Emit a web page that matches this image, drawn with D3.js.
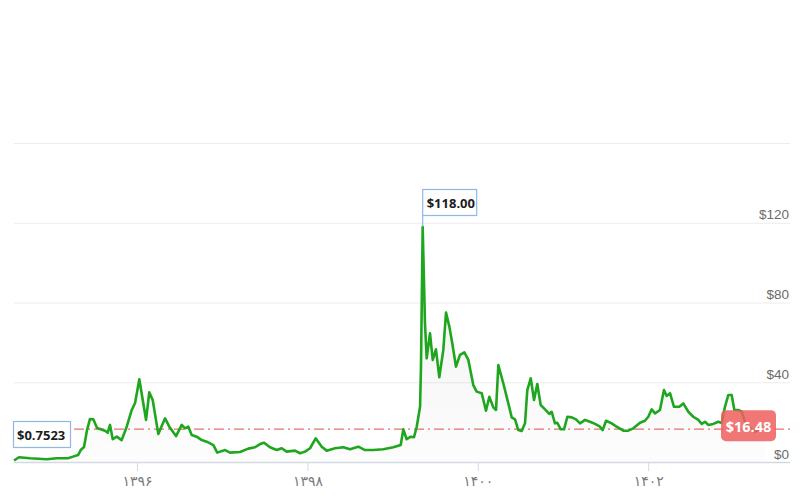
<!DOCTYPE html>
<html>
<head>
<meta charset="utf-8">
<script src="https://cdn.jsdelivr.net/npm/d3@7"></script>
<style>
  html, body { margin: 0; padding: 0; background: #fff; }
  svg { display: block; font-family: "Open Sans", "DejaVu Sans", sans-serif; }
</style>
</head>
<body>
<svg id="chart" width="800" height="500"></svg>
<script>
// Time in decimal Persian (Solar Hijri) years
const years = [
  1394.556, 1394.615, 1394.744, 1394.940, 1395.058, 1395.190, 1395.249, 1395.308, 1395.339, 1395.378,
  1395.413, 1395.448, 1395.487, 1395.531, 1395.624, 1395.656, 1395.683, 1395.715, 1395.762, 1395.820,
  1395.879, 1395.938, 1395.977, 1396.027, 1396.106, 1396.144, 1396.184, 1396.250, 1396.329, 1396.379,
  1396.458, 1396.525, 1396.563, 1396.602, 1396.642, 1396.701, 1396.759, 1396.818, 1396.896, 1396.942,
  1397.033, 1397.092, 1397.209, 1397.306, 1397.385, 1397.444, 1397.491, 1397.561, 1397.640, 1397.698,
  1397.757, 1397.854, 1397.913, 1397.972, 1398.031, 1398.097, 1398.168, 1398.227, 1398.324, 1398.421,
  1398.500, 1398.597, 1398.676, 1398.773, 1398.891, 1399.008, 1399.095, 1399.126, 1399.165, 1399.213,
  1399.251, 1399.283, 1399.322, 1399.333, 1399.353, 1399.380, 1399.400, 1399.439, 1399.471, 1399.509,
  1399.548, 1399.595, 1399.627, 1399.666, 1399.694, 1399.744, 1399.791, 1399.842, 1399.889, 1399.947,
  1399.987, 1400.046, 1400.096, 1400.135, 1400.182, 1400.214, 1400.241, 1400.299, 1400.358, 1400.398,
  1400.437, 1400.475, 1400.515, 1400.554, 1400.581, 1400.621, 1400.660, 1400.698, 1400.738, 1400.789,
  1400.839, 1400.867, 1400.906, 1400.933, 1400.973, 1401.012, 1401.051, 1401.102, 1401.153, 1401.200,
  1401.258, 1401.317, 1401.376, 1401.434, 1401.466, 1401.505, 1401.571, 1401.630, 1401.708, 1401.766,
  1401.825, 1401.904, 1401.962, 1402.001, 1402.041, 1402.080, 1402.138, 1402.185, 1402.217, 1402.256,
  1402.303, 1402.365, 1402.412, 1402.471, 1402.529, 1402.588, 1402.628, 1402.667, 1402.705, 1402.764,
  1402.823, 1402.863, 1402.901, 1402.940, 1402.980, 1403.011, 1403.058, 1403.098, 1403.148, 1403.195,
  1403.254, 1403.312, 1403.371
];
// Price in USD
const prices = [
  0.7523, 2.4, 1.9, 1.4, 1.9, 1.9, 2.7, 3.5, 6.0, 7.5,
  16.0, 21.6, 21.4, 17.1, 15.7, 14.7, 18.6, 11.4, 12.7, 11.0,
  17.7, 26.1, 29.6, 41.5, 21.1, 35.0, 31.1, 14.0, 21.9, 17.7,
  13.0, 18.6, 16.9, 17.7, 13.5, 12.7, 11.0, 10.2, 8.5, 4.7,
  6.0, 4.7, 5.0, 6.7, 7.4, 9.0, 9.7, 7.4, 6.0, 6.9,
  5.2, 5.7, 4.4, 5.2, 6.9, 11.9, 7.7, 5.7, 6.9, 7.4,
  6.4, 7.7, 6.0, 6.0, 6.4, 7.4, 8.5, 16.4, 11.4, 12.7,
  12.4, 17.7, 27.7, 47.8, 118.0, 69.6, 52.0, 64.5, 51.2, 56.5,
  42.5, 56.2, 74.9, 67.9, 61.2, 47.8, 53.7, 55.0, 51.2, 38.6,
  35.3, 34.5, 25.7, 32.7, 27.4, 26.1, 48.6, 39.5, 29.4, 22.4,
  21.4, 16.0, 15.5, 19.4, 36.1, 42.0, 31.1, 39.1, 28.6, 26.4,
  24.1, 25.2, 19.4, 19.7, 16.4, 16.4, 22.7, 22.4, 21.4, 19.4,
  21.1, 20.2, 19.1, 17.7, 16.0, 20.7, 19.4, 17.7, 15.7, 15.7,
  16.9, 19.7, 20.7, 22.7, 26.4, 24.4, 26.1, 36.1, 33.1, 34.5,
  27.7, 27.7, 29.4, 25.2, 22.7, 21.1, 19.1, 20.2, 18.6, 19.1,
  20.2, 19.6, 27.7, 33.6, 33.6, 26.1, 26.1, 25.2, 18.6, 17.1,
  15.2, 16.4, 16.48
];
const xTickValues = [1396, 1398, 1400, 1402];
const xTickLabels = ["۱۳۹۶", "۱۳۹۸", "۱۴۰۰", "۱۴۰۲"];
const yTickValues = [0, 40, 80, 120, 160];
const yTickLabels = ["$0", "$40", "$80", "$120", ""];
const currentPrice = 16.48;
const currentLabel = "$16.48";
const minLabel = "$0.7523";
const maxLabel = "$118.00";

(function () {
const data = years.map((t, i) => ({ t: t, v: prices[i] }));

const svg = d3.select("#chart");
const L = 14, R = 790, B = 462, T = 143;

const x = d3.scaleLinear().domain([years[0], years[years.length - 1]]).range([L, 765]);
const y = d3.scaleLinear().domain([0, 160]).range([B, T]);

// Gradient for area
const defs = svg.append("defs");
const grad = defs.append("linearGradient").attr("id", "areaGrad")
  .attr("x1", 0).attr("y1", 0).attr("x2", 0).attr("y2", 1);
grad.append("stop").attr("offset", "0%").attr("stop-color", "#000").attr("stop-opacity", 0.06);
grad.append("stop").attr("offset", "100%").attr("stop-color", "#000").attr("stop-opacity", 0.01);

// Y gridlines + labels
const yAxis = d3.axisRight(y)
  .tickValues(yTickValues)
  .tickSize(R - L)
  .tickFormat((d, i) => yTickLabels[i]);
const gy = svg.append("g").attr("transform", `translate(${L},0)`).call(yAxis);
gy.select(".domain").remove();
gy.selectAll(".tick line").attr("stroke", "#ececec").attr("stroke-width", 1);
gy.selectAll(".tick text")
  .attr("x", R - L - 1)
  .attr("dy", -4)
  .attr("text-anchor", "end")
  .attr("fill", "#6b6b6b")
  .style("font-size", "13.5px");

// X axis
const xAxis = d3.axisBottom(x)
  .tickValues(xTickValues)
  .tickSize(9)
  .tickFormat((d, i) => xTickLabels[i]);
const gx = svg.append("g").attr("transform", `translate(0,${B})`).call(xAxis);
gx.select(".domain").remove();
gx.selectAll(".tick line").attr("stroke", "#d6dbe3");
gx.selectAll(".tick text")
  .attr("y", 14)
  .attr("fill", "#7a7a7a")
  .style("font-size", "14px")
  .style("font-family", "'DejaVu Sans', sans-serif");
svg.append("line")
  .attr("x1", L).attr("x2", R)
  .attr("y1", B + 0.5).attr("y2", B + 0.5)
  .attr("stroke", "#d3d9e3").attr("stroke-width", 1.5);

// Area
const area = d3.area().x(d => x(d.t)).y0(B).y1(d => y(d.v)).curve(d3.curveLinear);
svg.append("path").datum(data).attr("d", area).attr("fill", "url(#areaGrad)");

// Current price reference line
svg.append("line")
  .attr("x1", L).attr("x2", R)
  .attr("y1", y(currentPrice)).attr("y2", y(currentPrice))
  .attr("stroke", "#e8706b").attr("stroke-width", 1.2)
  .attr("stroke-dasharray", "10,4,2,4");

// Line
const line = d3.line().x(d => x(d.t)).y(d => y(d.v)).curve(d3.curveLinear);
svg.append("path").datum(data).attr("d", line)
  .attr("fill", "none").attr("stroke", "#1fa61f").attr("stroke-width", 2.6)
  .attr("stroke-linejoin", "round");

// Max annotation
const maxI = d3.maxIndex(prices);
const mx = x(years[maxI]), my = y(prices[maxI]);
svg.append("line").attr("x1", mx).attr("x2", mx).attr("y1", my).attr("y2", 216)
  .attr("stroke", "#8fb8e6").attr("stroke-width", 1.2);
svg.append("rect").attr("x", mx).attr("y", 189.5).attr("width", 54).attr("height", 26)
  .attr("fill", "#fff").attr("stroke", "#8fb8e6").attr("stroke-width", 1.2);
svg.append("text").attr("x", mx + 4).attr("y", 207.5).text(maxLabel)
  .attr("fill", "#1d1d1d").style("font-weight", "bold").style("font-size", "13px");

// Min annotation
const mnx = x(years[0]);
svg.append("rect").attr("x", mnx - 0.5).attr("y", 421.5).attr("width", 57).attr("height", 26)
  .attr("fill", "#fff").attr("stroke", "#8fb8e6").attr("stroke-width", 1.2);
svg.append("text").attr("x", mnx + 3).attr("y", 439.5).text(minLabel)
  .attr("fill", "#1d1d1d").style("font-weight", "bold").style("font-size", "13px");

// Current price label
const cy = y(currentPrice);
svg.append("rect").attr("x", 721).attr("y", cy - 19).attr("width", 55).attr("height", 31).attr("rx", 5)
  .attr("fill", "#ef5f5f").attr("fill-opacity", 0.85);
svg.append("text").attr("x", 748.5).attr("y", cy + 2.5).attr("text-anchor", "middle").text(currentLabel)
  .attr("fill", "#fff").style("font-weight", "bold").style("font-size", "14.5px");
})();
</script>
</body>
</html>
